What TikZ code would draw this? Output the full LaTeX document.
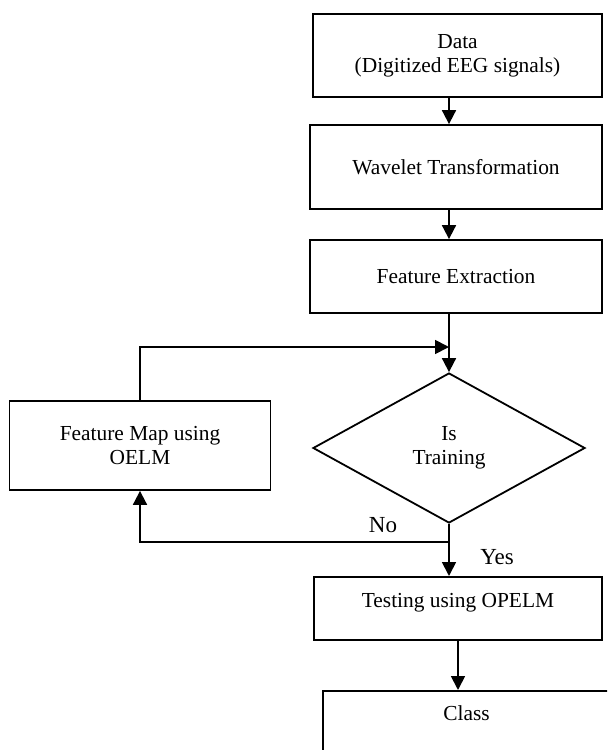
\documentclass[tikz,border=0pt]{standalone}
\usepackage{fontspec}
\setmainfont{Liberation Serif}
\usetikzlibrary{positioning, arrows.meta, shapes.geometric}

\begin{document}
\begin{tikzpicture}[
  x=0.5pt, y=-0.5pt,
  stage/.style={draw, line width=0.9pt, inner sep=0pt, font=\fontsize{10.7}{12}\selectfont, align=center},
  query/.style={draw, diamond, line width=0.9pt, inner sep=0pt, minimum width=136pt, minimum height=75pt, font=\fontsize{10.7}{12}\selectfont, align=center},
  flow/.style={-{Triangle[length=7pt, width=7pt]}, line width=0.9pt},
  tag/.style={font=\fontsize{11.5}{12}\selectfont}
]
\useasboundingbox (0,0) rectangle (607,750);
\clip (0,0) rectangle (607,750);

\node[stage, minimum width=144.5pt, minimum height=41.5pt] (data) at (457.5,55.5) {Data\\(Digitized EEG signals)};
\node[stage, minimum width=146pt, minimum height=42pt] (wav) at (456,167) {Wavelet Transformation};
\node[stage, minimum width=146pt, minimum height=36.5pt] (fex) at (456,276.5) {Feature Extraction};
\node[query] (trn) at (449,448) {Is\\Training};
\node[stage, minimum width=130.5pt, minimum height=44.5pt] (fmap) at (140,445.5) {Feature Map using\\OELM};
\node[stage, minimum width=144pt, text height=15.5pt, text depth=16pt, anchor=north] (tst) at (458,576) {Testing using OPELM};
\node[stage, minimum width=143.5pt, text height=15pt, text depth=40pt, anchor=north] (cls) at (466.5,690) {Class};

\node[tag] (no) at (383,525) {No};
\node[tag] (yes) at (497,557) {Yes};

\coordinate (merge) at (449,347);
\coordinate (split) at (449,542);

\draw[flow] (data.south -| trn.north) -- (wav.north -| trn.north);
\draw[flow] (wav.south -| trn.north) -- (fex.north -| trn.north);
\draw[flow] (fex.south -| trn.north) -- (trn.north);
\draw[flow] (fmap.north) |- (merge);
\draw[flow] (trn.south) -- (tst.north -| trn.south);
\draw[flow] (split) -| (fmap.south);
\draw[flow] (tst.south) -- (cls.north -| tst.south);
\end{tikzpicture}
\end{document}
